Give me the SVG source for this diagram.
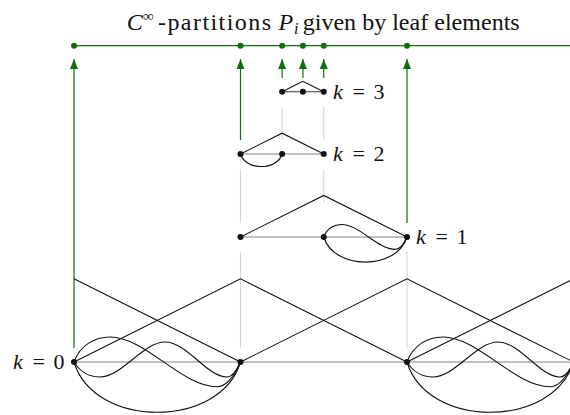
<svg xmlns="http://www.w3.org/2000/svg" width="570" height="415" viewBox="0 0 570 415">
<defs>
<marker id="ah" viewBox="0 0 10 8" refX="10" refY="4" markerWidth="10" markerHeight="8" orient="auto" markerUnits="userSpaceOnUse">
<path d="M0 0 L10 4 L0 8 z" fill="#0e6e0e"/>
</marker>
<path id="wave1" d="M0 0 C6 -17 21 -25 36 -25 C71 -25 108 24.7 143 24.7 C154 24.7 162 10 166.5 0"/>
<path id="wave2" d="M0 0 C6 10 16 15 26 15 C48 15 69 -20 91 -20 C113 -20 133 15 152.7 15 C159 15 163 8 166.5 0"/>
<path id="arc" d="M0 0 C20 67 146.5 67 166.5 0"/>
</defs>
<rect width="570" height="415" fill="#fff"/>

<g id="title" fill="#111">
<text font-family="Liberation Serif, serif" font-style="italic" x="126.7" y="30" font-size="24">C</text>
<text font-family="Liberation Serif, serif" x="143" y="21" font-size="15">∞</text>
<text font-family="Liberation Serif, serif" x="158" y="30" font-size="24" textLength="113" lengthAdjust="spacing">-partitions</text>
<text font-family="Liberation Serif, serif" font-style="italic" x="278.5" y="30" font-size="24">P</text>
<text font-family="Liberation Serif, serif" font-style="italic" x="294" y="34" font-size="16">i</text>
<text font-family="Liberation Serif, serif" x="302.7" y="30" font-size="24" textLength="217" lengthAdjust="spacing">given by leaf elements</text>
</g>

<g id="connectors">
<g stroke="#d6d6d6" stroke-width="1.1">
<line x1="282.1" y1="106.7" x2="282.1" y2="140"/>
<line x1="323.75" y1="106.7" x2="323.75" y2="140"/>
<line x1="240.5" y1="169" x2="240.5" y2="223"/>
<line x1="323.75" y1="169" x2="323.75" y2="203"/>
<line x1="240.5" y1="252" x2="240.5" y2="348"/>
<line x1="407" y1="252" x2="407" y2="348"/>
</g>
<g stroke="#0e6e0e" stroke-width="1.2" marker-end="url(#ah)">
<line x1="74" y1="348" x2="74" y2="59"/>
<line x1="240.5" y1="140" x2="240.5" y2="59"/>
<line x1="282.1" y1="78" x2="282.1" y2="59"/>
<line x1="302.9" y1="78" x2="302.9" y2="59"/>
<line x1="323.75" y1="78" x2="323.75" y2="59"/>
<line x1="407" y1="223" x2="407" y2="59"/>
</g>
</g>

<g id="leaves" fill="#0e6e0e">
<line stroke="#0e6e0e" stroke-width="1.2" x1="74" y1="45.7" x2="570" y2="45.7"/>
<circle cx="74" cy="45.7" r="3"/>
<circle cx="240.5" cy="45.7" r="3"/>
<circle cx="282.1" cy="45.7" r="3"/>
<circle cx="302.9" cy="45.7" r="3"/>
<circle cx="323.75" cy="45.7" r="3"/>
<circle cx="407" cy="45.7" r="3"/>
</g>

<g id="level-3">
<line stroke="#333" stroke-width="1.1" x1="282.1" y1="91.7" x2="323.75" y2="91.7"/>
<polyline fill="none" stroke="#111" stroke-width="1.1" points="282.1,91.7 302.9,81.3 323.75,91.7"/>
<g fill="#111"><circle cx="282.1" cy="91.7" r="3"/><circle cx="302.9" cy="91.7" r="3"/><circle cx="323.75" cy="91.7" r="3"/></g>
<g fill="#111" font-size="22">
<text font-family="Liberation Serif, serif" font-style="italic" x="333" y="98.5">k</text>
<text font-family="Liberation Serif, serif" x="352.5" y="98.5">=</text>
<text font-family="Liberation Serif, serif" x="373.5" y="98.5">3</text>
</g>
</g>

<g id="level-2">
<line stroke="#ababab" stroke-width="1.6" x1="240.5" y1="154" x2="323.75" y2="154"/>
<polyline fill="none" stroke="#111" stroke-width="1.1" points="240.5,154 282.1,133.2 323.75,154"/>
<g transform="translate(240.5,154) scale(0.25)" fill="none" stroke="#111" stroke-width="4.4"><use href="#arc"/></g>
<g fill="#111"><circle cx="240.5" cy="154" r="3"/><circle cx="282.1" cy="154" r="3"/><circle cx="323.75" cy="154" r="3"/></g>
<g fill="#111" font-size="22">
<text font-family="Liberation Serif, serif" font-style="italic" x="333" y="160.5">k</text>
<text font-family="Liberation Serif, serif" x="352.5" y="160.5">=</text>
<text font-family="Liberation Serif, serif" x="373.5" y="160.5">2</text>
</g>
</g>

<g id="level-1">
<line stroke="#ababab" stroke-width="1.6" x1="240.5" y1="237" x2="407" y2="237"/>
<polyline fill="none" stroke="#111" stroke-width="1.1" points="240.5,237 323.75,195.4 407,237"/>
<g transform="translate(323.75,237) scale(0.5)" fill="none" stroke="#111" stroke-width="2.2"><use href="#wave1"/><use href="#arc"/></g>
<g fill="#111"><circle cx="240.5" cy="237" r="3"/><circle cx="323.75" cy="237" r="3"/><circle cx="407" cy="237" r="3"/></g>
<g fill="#111" font-size="22">
<text font-family="Liberation Serif, serif" font-style="italic" x="416" y="243.5">k</text>
<text font-family="Liberation Serif, serif" x="435.5" y="243.5">=</text>
<text font-family="Liberation Serif, serif" x="456.5" y="243.5">1</text>
</g>
</g>

<g id="level-0">
<line stroke="#ababab" stroke-width="1.6" x1="74" y1="362" x2="570" y2="362"/>
<g fill="none" stroke="#111" stroke-width="1.1">
<polyline points="74,362 240.5,278.8 407,362"/>
<polyline points="240.5,362 407,278.8 573.5,362"/>
<polyline points="74,278.8 240.5,362"/>
<polyline points="407,362 573.5,278.8"/>
<g transform="translate(74,362)"><use href="#wave1"/><use href="#wave2"/><use href="#arc"/></g>
<g transform="translate(407,362)"><use href="#wave1"/><use href="#wave2"/><use href="#arc"/></g>
</g>
<g fill="#111"><circle cx="74" cy="362" r="3"/><circle cx="240.5" cy="362" r="3"/><circle cx="407" cy="362" r="3"/></g>
<g fill="#111" font-size="22">
<text font-family="Liberation Serif, serif" font-style="italic" x="13" y="368.5">k</text>
<text font-family="Liberation Serif, serif" x="32.5" y="368.5">=</text>
<text font-family="Liberation Serif, serif" x="53.5" y="368.5">0</text>
</g>
</g>
</svg>
